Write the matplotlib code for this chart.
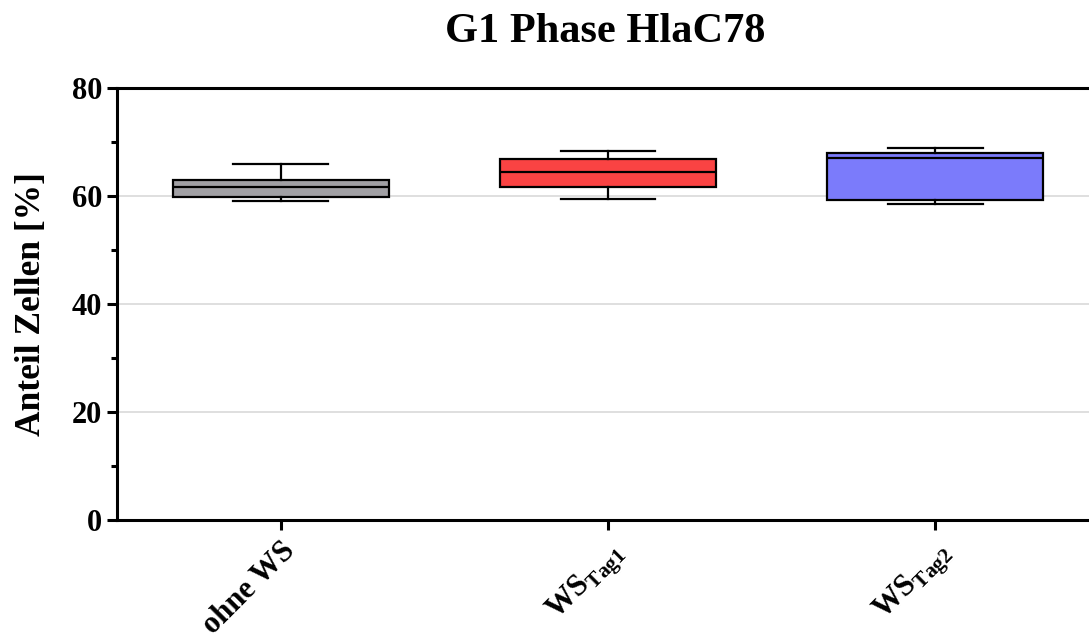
import matplotlib
matplotlib.use("Agg")
import matplotlib.pyplot as plt
from matplotlib.ticker import MultipleLocator

plt.rcParams['font.family'] = ['Liberation Serif', 'DejaVu Serif']
plt.rcParams['font.weight'] = 'bold'
plt.rcParams['mathtext.fontset'] = 'custom'
plt.rcParams['mathtext.rm'] = 'Liberation Serif'
plt.rcParams['mathtext.bf'] = 'Liberation Serif:bold'

# Box statistics per group (percent of cells in G1 phase)
groups = ['ohne WS', r'WS$_{\mathbf{Tag1}}$', r'WS$_{\mathbf{Tag2}}$']
whisk_lo = [59.1, 59.4, 58.5]
q1 = [59.9, 61.6, 59.3]
median = [61.6, 64.4, 67.1]
q3 = [63.0, 66.8, 67.9]
whisk_hi = [65.9, 68.4, 68.8]
colors = ['#a1a0a4', '#fa4343', '#7b7bfb']

stats = []
for i in range(len(groups)):
    stats.append(dict(whislo=whisk_lo[i], q1=q1[i], med=median[i],
                      q3=q3[i], whishi=whisk_hi[i], fliers=[]))

fig = plt.figure(figsize=(10.89, 6.37), dpi=100)
ax = fig.add_axes([117 / 1089, 117 / 637, 982 / 1089, 432 / 637])

bp = ax.bxp(stats, positions=range(len(groups)), widths=0.66,
            patch_artist=True, showfliers=False,
            boxprops=dict(linewidth=1.6, edgecolor='black'),
            medianprops=dict(color='black', linewidth=1.6),
            whiskerprops=dict(color='black', linewidth=1.6),
            capprops=dict(color='black', linewidth=1.6),
            capwidths=0.29)
for patch, c in zip(bp['boxes'], colors):
    patch.set_facecolor(c)

ax.set_xlim(-0.5, 2.5)
ax.set_ylim(0, 80)
ax.yaxis.set_major_locator(MultipleLocator(20))
ax.yaxis.set_minor_locator(MultipleLocator(10))
ax.set_xticks(range(len(groups)))
ax.set_xticklabels(groups, rotation=45, ha='right', rotation_mode='anchor',
                   fontsize=20, fontweight='bold')

for y in [20, 40, 60]:
    ax.axhline(y, color='#d9d9d9', linewidth=1.2, zorder=0)

for s in ax.spines.values():
    s.set_linewidth(2.2)
ax.tick_params(axis='both', which='major', width=2.2, length=7, labelsize=22)
ax.tick_params(axis='y', which='minor', width=2.2, length=4)
ax.tick_params(axis='x', pad=5)
for lab in ax.get_yticklabels():
    lab.set_fontweight('bold')

ax.set_ylabel('Anteil Zellen [%]', fontsize=25.5, fontweight='bold', labelpad=17)
fig.text(605 / 1089, 1 - 32 / 637, 'G1 Phase HlaC78', ha='center', va='center',
         fontsize=30.5, fontweight='bold')

fig.savefig('out.png', dpi=100)
